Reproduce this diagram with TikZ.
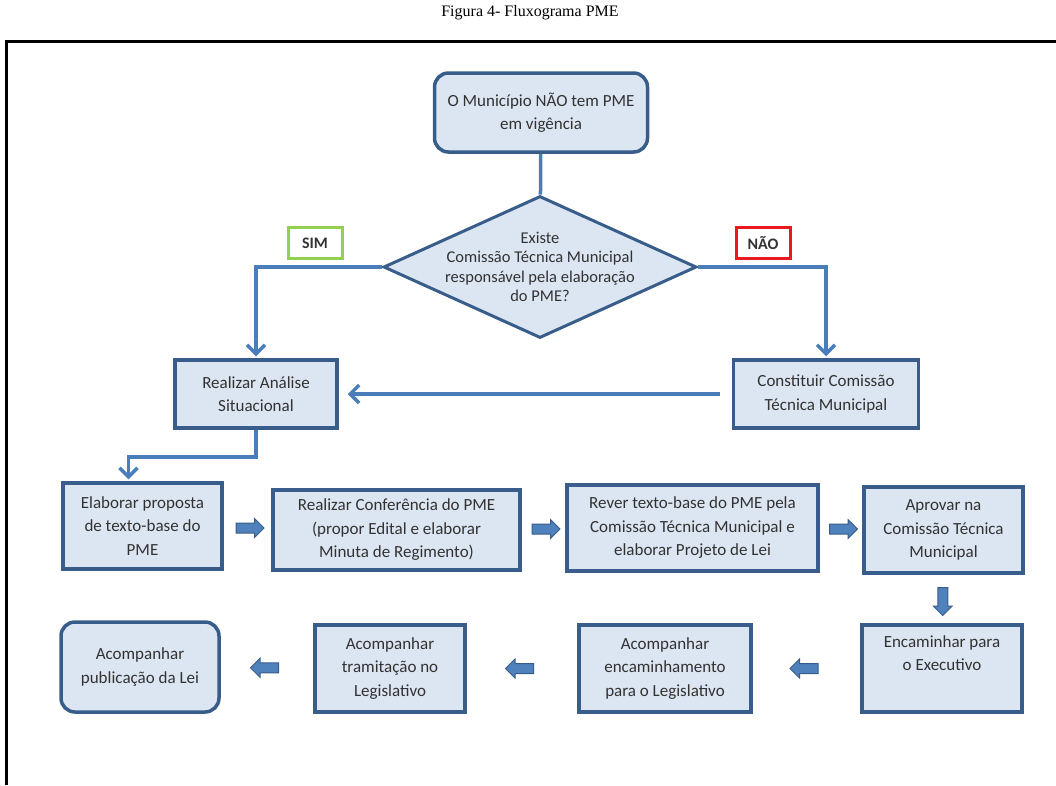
\documentclass[tikz,border=0pt]{standalone}
\usepackage{fontspec}
\usepackage{tikz}
\usetikzlibrary{arrows.meta,calc,shapes.geometric,shapes.arrows}
\newfontfamily\boxfam{Carlito}
\newfontfamily\titlefam{Liberation Serif}
\definecolor{boxline}{RGB}{56,93,138}
\definecolor{boxfill}{RGB}{220,230,242}
\definecolor{connblue}{RGB}{74,126,187}
\definecolor{arrowfill}{RGB}{79,129,189}
\definecolor{txtgray}{RGB}{50,50,50}
\definecolor{simgreen}{RGB}{146,208,80}
\definecolor{naored}{RGB}{235,25,30}

\begin{document}
\begin{tikzpicture}[x=1pt,y=-1pt,
    b/.style={rectangle,draw=boxline,fill=boxfill,line width=3.5pt,align=center,
      font=\boxfam\fontsize{17}{23.5}\selectfont,text=txtgray,inner sep=2pt},
    rb/.style={b,rounded corners=14pt},
    dec/.style={diamond,draw=boxline,fill=boxfill,line width=3pt,inner sep=0pt,
      minimum width=313pt,minimum height=142pt},
    tag/.style={rectangle,line width=3pt,font=\boxfam\bfseries\fontsize{16}{18}\selectfont,
      text=txtgray,minimum width=54pt,minimum height=31pt,inner sep=0pt},
    ln/.style={connblue,line width=3.5pt},
    a/.style={ln,-{Straight Barb[length=9pt,width=18pt]}},
    ba/.style={single arrow,draw=boxline,fill=arrowfill,line width=1pt,inner sep=4.5pt,
      minimum height=28pt,minimum width=18pt,single arrow head extend=4.5pt}]
  \useasboundingbox (0,0) rectangle (1056,785);
  \node[font=\titlefam\fontsize{16}{18}\selectfont] (title) at (530,13) {Figura 4- Fluxograma PME};
  \draw[line width=3pt] (6,785) -- (6,41) -- (1056,41);
  % decision part
  \node[rb,minimum width=213pt,minimum height=79pt] (top) at (541,112.5) {O Município NÃO tem PME\\em vigência};
  \node[dec,label={[align=center,text=txtgray,font=\boxfam\fontsize{16.5}{19.5}\selectfont]center:{Existe\\Comissão Técnica Municipal\\responsável pela elaboração\\do PME?}}] (dec) at (540,267) {};
  \node[tag,draw=simgreen] (sim) at (315,243) {SIM};
  \node[tag,draw=naored] (nao) at (763,243) {NÃO};
  \node[b,minimum width=162pt,minimum height=68pt] (sit) at (256,394) {Realizar Análise\\Situacional};
  \node[b,minimum width=185pt,minimum height=68pt] (cons) at (826,394) {Constituir Comissão\\Técnica Municipal};
  % second row
  \node[b,minimum width=159pt,minimum height=86pt] (elab) at (142.5,526) {Elaborar proposta\\de texto-base do\\PME};
  \node[b,minimum width=247pt,minimum height=80pt] (conf) at (396.5,530) {Realizar Conferência do PME\\(propor Edital e elaborar\\Minuta de Regimento)};
  \node[b,minimum width=251pt,minimum height=86pt] (rev) at (692.5,528) {Rever texto-base do PME pela\\Comissão Técnica Municipal e\\elaborar Projeto de Lei};
  \node[b,minimum width=159pt,minimum height=86pt] (aprov) at (943.5,530) {Aprovar na\\Comissão Técnica\\Municipal};
  % third row
  \node[b,minimum width=160pt,minimum height=87pt] (exec) at (942,668.5) {Encaminhar para\\o Executivo\\\strut};
  \node[b,minimum width=172pt,minimum height=87pt] (enc) at (665,668.5) {Acompanhar\\encaminhamento\\para o Legislativo};
  \node[b,minimum width=150pt,minimum height=87pt] (tram) at (390,668.5) {Acompanhar\\tramitação no\\Legislativo};
  \node[rb,minimum width=158pt,minimum height=90pt] (pub) at (140,667) {Acompanhar\\publicação da Lei};
  % connectors
  \draw[ln] (top) -- (dec);
  \draw[a,shorten >=2pt] (dec.west) -| (sit.north);
  \draw[a,shorten >=2pt] (dec.east) -| (cons.north);
  \draw[a,shorten >=9pt,shorten <=12pt] (cons.west) -- (sit.east);
  \draw[a,shorten >=2pt] (sit.south) -- ++(0,27) -| ([xshift=-14pt]elab.north);
  \node[ba] (ba1) at ($(elab.east)!.5!(conf.west)$) {};
  \node[ba] (ba2) at ($(conf.east)!.5!(rev.west)$) {};
  \node[ba] (ba3) at ($(rev.east)!.5!(aprov.west)$) {};
  \node[ba,shape border rotate=270] (ba4) at ($(aprov.south)!.5!(exec.north)$) {};
  \node[ba,shape border rotate=180] (ba5) at ($(exec.west)!.5!(enc.east)$) {};
  \node[ba,shape border rotate=180] (ba6) at ($(enc.west)!.5!(tram.east)$) {};
  \node[ba,shape border rotate=180] (ba7) at ($(tram.west)!.5!(pub.east)$) {};
\end{tikzpicture}
\end{document}
